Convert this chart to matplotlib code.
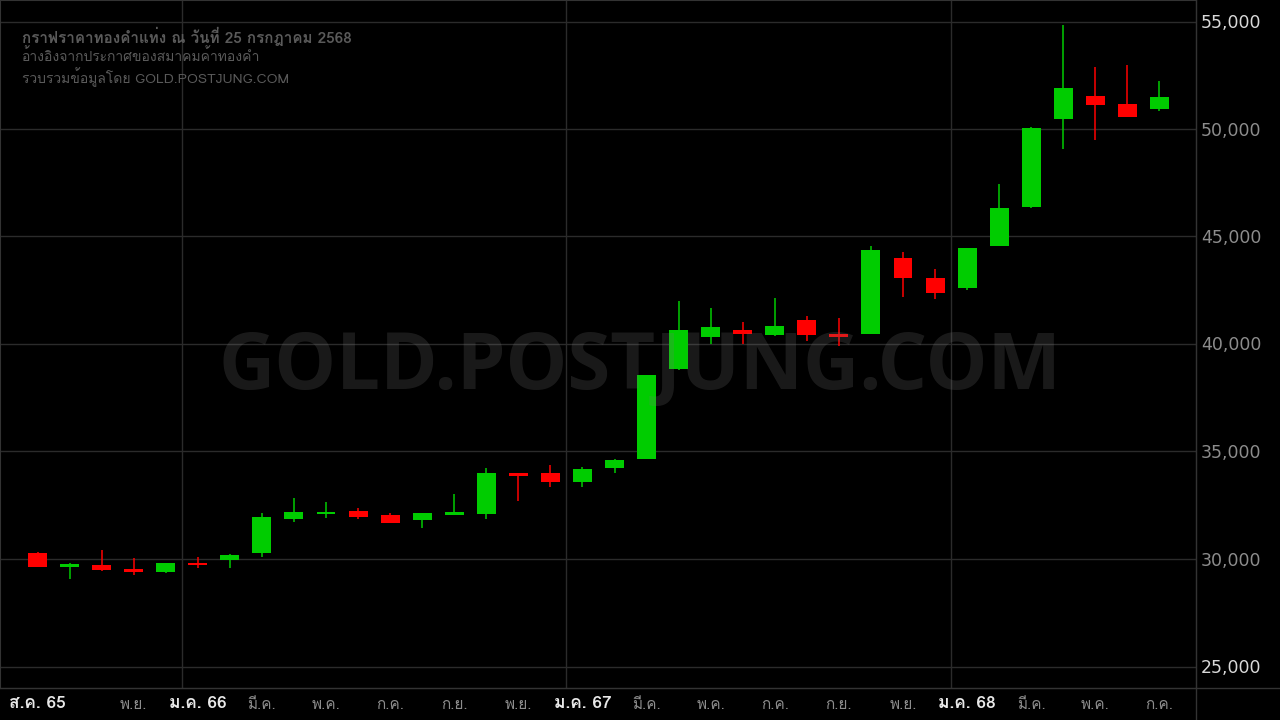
import numpy as np
import matplotlib
matplotlib.use("Agg")
import matplotlib.pyplot as plt
from matplotlib import font_manager
from matplotlib.ft2font import FT2Font
from matplotlib.transforms import blended_transform_factory

# find an installed font that has Thai glyphs
thai_family = None
for f in font_manager.fontManager.ttflist:
    try:
        if 0x0E01 in FT2Font(f.fname).get_charmap():
            thai_family = f.name
            break
    except Exception:
        pass
fams = ([thai_family] if thai_family else []) + ["DejaVu Sans"]
plt.rcParams["font.family"] = fams

# monthly OHLC, ส.ค. 65 .. ก.ค. 68
opens = [30280, 29643, 29722, 29536, 29410, 29815, 29968, 30294, 31875, 32108,
         32233, 32047, 31829, 32061, 32108, 34001, 34001, 33596, 34247, 34652,
         38838, 40326, 40652, 40419, 41117, 40466, 40466, 44000, 43070, 42605,
         44559, 46372, 50465, 51535, 51163, 50930]
highs = [30326, 29815, 30419, 30047, 29815, 30094, 30233, 32140, 32838, 32652,
         32373, 32140, 32140, 33024, 34233, 34001, 34373, 34280, 34652, 38559,
         42000, 41675, 41024, 42140, 41303, 41210, 44559, 44279, 43489, 44466,
         47442, 50093, 54837, 52884, 52977, 52233]
lows = [29643, 29085, 29457, 29271, 29364, 29596, 29596, 30108, 31736, 31922,
        31861, 31689, 31457, 32061, 31875, 32712, 33364, 33364, 34015, 34652,
        38791, 40000, 40000, 40373, 40140, 39908, 40466, 42187, 42094, 42512,
        44559, 46326, 49070, 49489, 50558, 50837]
closes = [29643, 29768, 29503, 29410, 29815, 29722, 30187, 31954, 32187, 32201,
          31968, 31689, 32140, 32187, 34001, 33875, 33596, 34187, 34605, 38559,
          40652, 40791, 40466, 40838, 40419, 40326, 44372, 43070, 42373, 44466,
          46326, 50047, 51907, 51116, 50558, 51489]

# x labels: (index, text, is_year)
xlabels = [(0, "ส.ค. 65", True), (3, "พ.ย.", False), (5, "ม.ค. 66", True),
           (7, "มี.ค.", False), (9, "พ.ค.", False), (11, "ก.ค.", False),
           (13, "ก.ย.", False), (15, "พ.ย.", False), (17, "ม.ค. 67", True),
           (19, "มี.ค.", False), (21, "พ.ค.", False), (23, "ก.ค.", False),
           (25, "ก.ย.", False), (27, "พ.ย.", False), (29, "ม.ค. 68", True),
           (31, "มี.ค.", False), (33, "พ.ค.", False), (35, "ก.ค.", False)]
yticks = [25000, 30000, 35000, 40000, 45000, 50000, 55000]

title_lines = ["กราฟราคาทองคำแท่ง ณ วันที่ 25 กรกฎาคม 2568",
               "อ้างอิงจากประกาศของสมาคมค้าทองคำ",
               "รวบรวมข้อมูลโดย GOLD.POSTJUNG.COM"]

W, H = 1280, 720
fig = plt.figure(figsize=(12.8, 7.2), dpi=100, facecolor="black")
ax = fig.add_axes([0, 32 / H, 1196 / W, 688 / H], facecolor="black")

x = np.arange(len(opens))
o = np.array(opens); c = np.array(closes)
up = c >= o
colors = np.where(up, "#00cc00", "#ff0000")
ax.vlines(x, lows, highs, colors=colors, linewidth=1.1, zorder=3)
ax.bar(x, np.abs(c - o), bottom=np.minimum(o, c), width=0.59,
       color=colors, linewidth=0, zorder=4)

ax.set_xlim(-1.17, 36.14)
ax.set_ylim(24000, 56000)

# grid
for v in yticks:
    ax.axhline(v, color="#2b2b2b", linewidth=1, zorder=1)
for i, t, yr in xlabels:
    if yr and i > 0:
        ax.axvline(i - 0.5, color="#2b2b2b", linewidth=1, zorder=1)

ax.set_xticks([])
ax.set_yticks([])
for s in ax.spines.values():
    s.set_color("#333333")

# y labels on the right
for v in yticks:
    col = "#d8d8d8" if v in (25000, 55000) else "#8c8c8c"
    fig.text(1201 / W, ax.transData.transform((0, v))[1] / H - 1.5 / H, f"{v:,}",
             color=col, fontsize=12.5, family=["DejaVu Sans"],
             ha="left", va="center")

# x labels below
trans = blended_transform_factory(ax.transData, fig.transFigure)
for i, t, yr in xlabels:
    if yr:
        ax.text(i, 16 / H, t, transform=trans, color="#e8e8e8", fontsize=12.5,
                fontweight="bold", ha="center", va="center", clip_on=False)
    else:
        ax.text(i, 15 / H, t, transform=trans, color="#8c8c8c", fontsize=11,
                ha="center", va="center", clip_on=False)

# frame lines outside the plot
fig.add_artist(plt.Line2D([1196 / W, 1196 / W], [0, 1], color="#333333", linewidth=1))
fig.add_artist(plt.Line2D([0, 1], [32 / H, 32 / H], color="#333333", linewidth=1))

# watermark
ax.text(0.535, 0.464, "GOLD.POSTJUNG.COM", transform=ax.transAxes,
        fontsize=56, fontweight="bold", family=["Open Sans", "DejaVu Sans"],
        color="#767676", alpha=0.22, ha="center", va="center", zorder=6)

# header
ax.text(22 / 1196, 1 - 36 / 688, title_lines[0], transform=ax.transAxes,
        color="#5a5a5a", fontsize=11, fontweight="bold", ha="left", va="center")
ax.text(22 / 1196, 1 - 56 / 688, title_lines[1], transform=ax.transAxes,
        color="#5a5a5a", fontsize=10, ha="left", va="center")
ax.text(22 / 1196, 1 - 77 / 688, title_lines[2], transform=ax.transAxes,
        color="#5a5a5a", fontsize=10, ha="left", va="center")

fig.savefig("out.png", dpi=100, facecolor="black")
